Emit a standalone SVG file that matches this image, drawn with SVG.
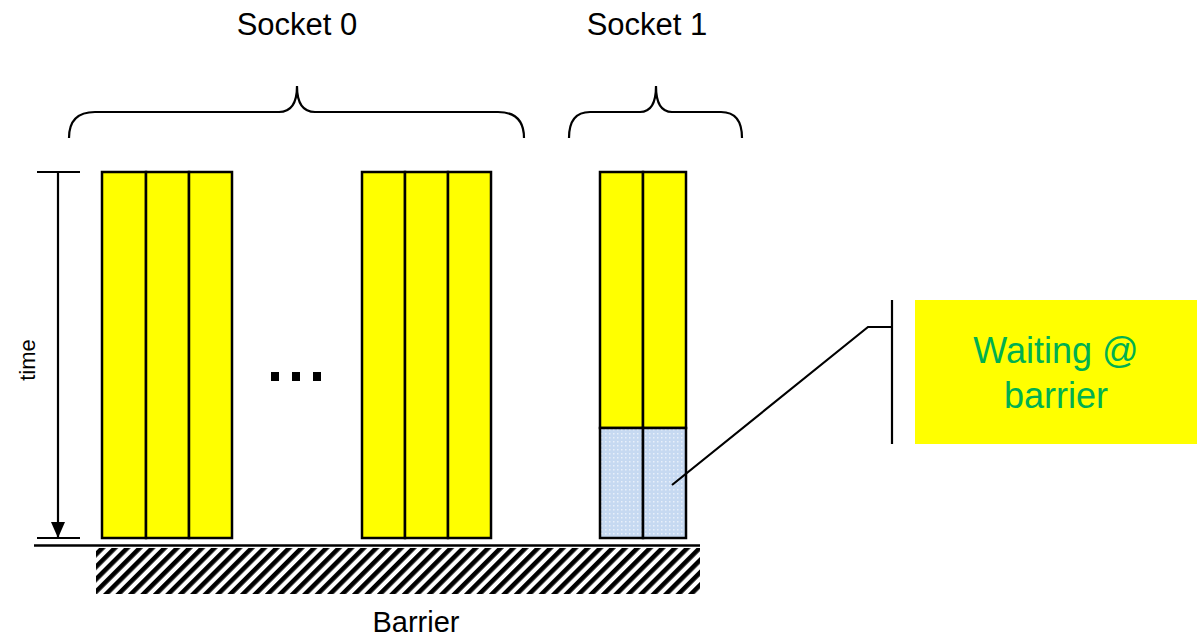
<svg xmlns="http://www.w3.org/2000/svg" width="1203" height="637" viewBox="0 0 1203 637">
<style>
.col{fill:#FFFF00;stroke:#000;stroke-width:2.5}
.wait{fill:url(#dots);stroke:#000;stroke-width:2.5}
.ln{fill:none;stroke:#000;stroke-width:2.2}
.lbl{font-family:"Liberation Sans",Arial,sans-serif;fill:#000}
</style>
<defs>
<pattern id="dots" width="4" height="4" patternUnits="userSpaceOnUse">
<rect width="4" height="4" fill="#C6D9F1"/>
<rect x="1" y="1" width="1.5" height="1.5" fill="#E8F0FA"/>
</pattern>
<pattern id="hatch" width="8.8" height="12" patternUnits="userSpaceOnUse" patternTransform="rotate(45)">
<rect width="8.8" height="12" fill="#fff"/>
<rect x="0" y="0" width="4.6" height="12" fill="#000"/>
</pattern>
<marker id="arrow" viewBox="0 0 16 14" refX="16" refY="7" markerWidth="16" markerHeight="14" orient="auto" markerUnits="userSpaceOnUse">
<path d="M0,0 L16,7 L0,14 z" fill="#000"/>
</marker>
</defs>

<g id="socket0-label"><text class="lbl" x="297" y="35" font-size="31" text-anchor="middle">Socket 0</text></g>
<g id="socket1-label"><text class="lbl" x="647" y="35" font-size="31" text-anchor="middle">Socket 1</text></g>

<g id="brace0"><path class="ln" d="M69,138 Q69,112 95,112 L279,112 Q297,112 297,86 Q297,112 315,112 L498,112 Q524,112 524,138"/></g>
<g id="brace1"><path class="ln" d="M569,138 Q569,112 590,112 L640,112 Q656,112 656,86 Q656,112 672,112 L721,112 Q742,112 742,138"/></g>

<g id="group-a">
<rect class="col" x="102" y="172" width="44" height="366"/>
<rect class="col" x="146" y="172" width="43" height="366"/>
<rect class="col" x="189" y="172" width="43" height="366"/>
</g>
<g id="ellipsis">
<rect x="271" y="372" width="8" height="9" fill="#000"/>
<rect x="292" y="372" width="8" height="9" fill="#000"/>
<rect x="313" y="372" width="8" height="9" fill="#000"/>
</g>
<g id="group-b">
<rect class="col" x="362" y="172" width="43" height="366"/>
<rect class="col" x="405" y="172" width="43" height="366"/>
<rect class="col" x="448" y="172" width="43" height="366"/>
</g>
<g id="socket1-cores">
<rect class="col" x="600" y="172" width="43" height="256"/>
<rect class="col" x="643" y="172" width="43" height="256"/>
<rect class="wait" x="600" y="428" width="43" height="110"/>
<rect class="wait" x="643" y="428" width="43" height="110"/>
</g>

<g id="time-axis">
<line class="ln" x1="37" y1="172" x2="80" y2="172"/>
<line class="ln" x1="37" y1="538" x2="80" y2="538"/>
<line class="ln" x1="58" y1="172" x2="58" y2="538" marker-end="url(#arrow)"/>
<text class="lbl" font-size="22" text-anchor="middle" transform="translate(35,360) rotate(-90)">time</text>
</g>

<g id="barrier">
<line x1="34" y1="545.5" x2="700" y2="545.5" stroke="#000" stroke-width="2.5"/>
<rect x="96" y="548" width="604" height="46" fill="url(#hatch)"/>
<text class="lbl" x="416" y="632" font-size="29" text-anchor="middle">Barrier</text>
</g>

<g id="connectors">
<polyline class="ln" points="672,485 868,327 892,327"/>
<line class="ln" x1="892" y1="300" x2="892" y2="444"/>
</g>

<g id="callout">
<rect x="915" y="300" width="282" height="144" fill="#FFFF00"/>
<text font-family="Liberation Sans,Arial,sans-serif" font-size="36" fill="#00B050" text-anchor="middle"><tspan x="1056" y="363">Waiting @</tspan><tspan x="1056" y="408">barrier</tspan></text>
</g>
</svg>
